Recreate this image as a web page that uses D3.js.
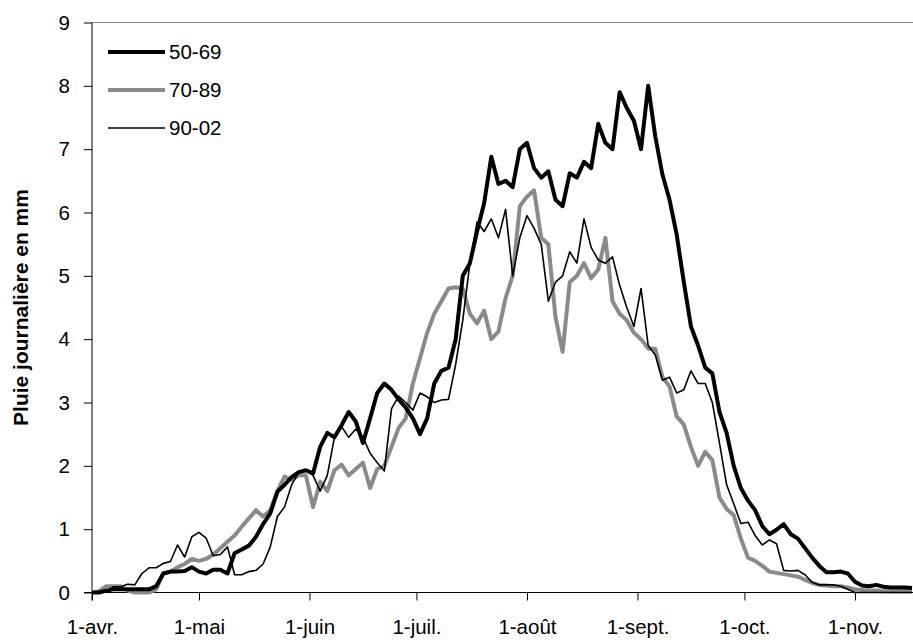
<!DOCTYPE html>
<html>
<head>
<meta charset="utf-8">
<script src="https://cdn.jsdelivr.net/npm/d3@7"></script>
<style>
  html, body { margin: 0; padding: 0; background: #ffffff; }
  svg { display: block; }
  text { font-family: "Liberation Sans", Arial, sans-serif; fill: #000; }
</style>
</head>
<body>
<svg id="chart" width="913" height="642"></svg>
<script>
// ---- data (values every 2 days from 1 April) ----
const startDate = new Date(2000, 3, 1);
const endDate = new Date(2000, 10, 17);
const stepDays = 2;
const seriesNames = ["50-69", "70-89", "90-02"];
const monthLabels = ["1-avr.", "1-mai", "1-juin", "1-juil.", "1-août", "1-sept.", "1-oct.", "1-nov."];
const yTickValues = [0, 1, 2, 3, 4, 5, 6, 7, 8, 9];
const yTitle = "Pluie journalière en mm";

const s5069 = [
  0, 0, 0.03, 0.05, 0.05, 0.05, 0.05, 0.05, 0.05, 0.1,
  0.3, 0.33, 0.33, 0.34, 0.4, 0.33, 0.3, 0.36, 0.36, 0.3,
  0.62, 0.68, 0.74, 0.88, 1.08, 1.25, 1.59, 1.7, 1.82, 1.9,
  1.93, 1.88, 2.3, 2.52, 2.45, 2.64, 2.85, 2.7, 2.36, 2.75,
  3.15, 3.3, 3.2, 3.05, 2.92, 2.75, 2.5, 2.75, 3.3, 3.5,
  3.55, 4.0, 5.0, 5.2, 5.7, 6.15, 6.88, 6.45, 6.5, 6.4,
  7.0, 7.1, 6.7, 6.55, 6.65, 6.2, 6.1, 6.62, 6.55, 6.8,
  6.7, 7.4, 7.1, 7.0, 7.9, 7.65, 7.45, 7.0, 8.0, 7.2,
  6.6, 6.2, 5.65, 4.9, 4.2, 3.9, 3.55, 3.46, 2.85, 2.52,
  2.0, 1.65, 1.45, 1.3, 1.05, 0.92, 0.99, 1.08, 0.92, 0.85,
  0.7, 0.55, 0.42, 0.32, 0.32, 0.33, 0.3, 0.17, 0.11, 0.1,
  0.12, 0.09, 0.08, 0.08, 0.08, 0.07
];
const s7089 = [
  0, 0.02, 0.1, 0.1, 0.1, 0.03, 0, 0, 0, 0.05,
  0.3, 0.33, 0.4, 0.45, 0.53, 0.5, 0.53, 0.6, 0.7, 0.8,
  0.9, 1.04, 1.17, 1.3, 1.2, 1.3, 1.6, 1.83, 1.78, 1.85,
  1.85, 1.35, 1.75, 1.6, 1.93, 2.02, 1.85, 1.95, 2.05, 1.65,
  1.95, 2.0, 2.3, 2.6, 2.75, 3.3, 3.7, 4.1, 4.4, 4.6,
  4.8, 4.82, 4.8, 4.4, 4.25, 4.45, 4.0, 4.12, 4.65, 5.0,
  6.1, 6.25, 6.35, 5.6, 5.5, 4.35, 3.8, 4.9, 5.0, 5.2,
  4.96, 5.1, 5.6, 4.6, 4.4, 4.3, 4.1, 4.0, 3.85, 3.85,
  3.4, 3.25, 2.78, 2.65, 2.3, 2.0, 2.22, 2.09, 1.5, 1.32,
  1.22, 0.85, 0.55, 0.5, 0.42, 0.33, 0.31, 0.29, 0.27, 0.25,
  0.2, 0.15, 0.12, 0.11, 0.1, 0.1, 0.08, 0.05, 0.04, 0.03,
  0.03, 0.02, 0.02, 0.02, 0.02, 0.02
];
const s9002 = [
  0, 0, 0.02, 0.09, 0.09, 0.13, 0.12, 0.3, 0.39, 0.39,
  0.46, 0.49, 0.75, 0.56, 0.88, 0.95, 0.86, 0.58, 0.6, 0.72,
  0.28, 0.28, 0.33, 0.35, 0.45, 0.72, 1.2, 1.35, 1.7, 1.9,
  1.93, 1.85, 1.6, 1.85, 2.45, 2.62, 2.45, 2.58, 2.45, 2.2,
  2.05, 1.92, 2.9, 3.1, 3.0, 2.88, 3.15, 3.09, 3.0, 3.04,
  3.05, 3.6, 4.3, 5.2, 5.85, 5.7, 5.9, 5.6, 6.05, 5.0,
  5.6, 5.95, 5.75, 5.5, 4.6, 4.9, 5.0, 5.38, 5.2, 5.9,
  5.45, 5.25, 5.2, 5.3, 4.85, 4.5, 4.2, 4.8, 3.9, 3.75,
  3.35, 3.4, 3.15, 3.2, 3.5, 3.3, 3.3, 3.0, 2.36, 1.7,
  1.4, 1.09, 1.11, 0.9, 0.75, 0.83, 0.77, 0.35, 0.34, 0.35,
  0.28, 0.16, 0.12, 0.12, 0.12, 0.1, 0.05, 0, 0, 0,
  0, 0, 0, 0, 0, 0
];

// ---- layout ----
const margin = { left: 92, right: 1, top: 22.5, bottom: 49.5 };
const W = 913, H = 642;
const FONT = 20.5;
const svg = d3.select("#chart");

const x = d3.scaleTime()
  .domain([startDate, endDate])
  .range([margin.left, W - margin.right]);
const y = d3.scaleLinear()
  .domain([0, 9])
  .range([H - margin.bottom, margin.top]);

const dayOf = i => d3.timeDay.offset(startDate, i * stepDays);

// top frame line (grey)
svg.append("line")
  .attr("x1", margin.left).attr("x2", W)
  .attr("y1", y(9)).attr("y2", y(9))
  .attr("stroke", "#8c8c8c").attr("stroke-width", 1.2);

// axes
const monthTicks = d3.timeMonth.range(startDate, endDate);
const xAxis = d3.axisBottom(x)
  .tickValues(monthTicks)
  .tickSize(8)
  .tickPadding(19)
  .tickFormat((d, i) => monthLabels[i]);
const gx = svg.append("g")
  .attr("transform", `translate(0,${y(0)})`)
  .call(xAxis);
gx.select(".domain").attr("stroke", "#000").attr("d", `M${margin.left - 8},0H${W}`);
gx.selectAll(".tick line").attr("stroke", "#000");
gx.selectAll(".tick text").attr("font-size", FONT).attr("fill", "#000")
  .attr("font-family", "'Liberation Sans', Arial, sans-serif");

const yAxis = d3.axisLeft(y)
  .tickValues(yTickValues)
  .tickSize(8)
  .tickPadding(14)
  .tickFormat(d3.format("d"));
const gy = svg.append("g")
  .attr("transform", `translate(${margin.left},0)`)
  .call(yAxis);
gy.select(".domain").attr("stroke", "#000").attr("d", `M0,${y(9)}V${y(0) + 8}`);
gy.selectAll(".tick line").attr("stroke", "#000");
gy.selectAll(".tick text").attr("font-size", FONT).attr("fill", "#000")
  .attr("font-family", "'Liberation Sans', Arial, sans-serif");

// y title
svg.append("text")
  .attr("transform", `translate(28,${(y(0) + y(9)) / 2}) rotate(-90)`)
  .attr("text-anchor", "middle")
  .attr("font-size", 21)
  .attr("font-weight", "bold")
  .text(yTitle);

// lines
const styles = {
  "50-69": { color: "#000000", width: 4 },
  "70-89": { color: "#8a8a8a", width: 4 },
  "90-02": { color: "#000000", width: 1.6 }
};
const seriesData = { "50-69": s5069, "70-89": s7089, "90-02": s9002 };
const line = d3.line()
  .x((d, i) => x(dayOf(i)))
  .y(d => y(d));

const plot = svg.append("g");
["70-89", "50-69", "90-02"].forEach(name => {
  plot.append("path")
    .datum(seriesData[name])
    .attr("fill", "none")
    .attr("stroke", styles[name].color)
    .attr("stroke-width", styles[name].width)
    .attr("stroke-linejoin", "round")
    .attr("d", line);
});

// legend
const legend = svg.append("g");
seriesNames.forEach((name, i) => {
  const ly = 52 + i * 38;
  legend.append("line")
    .attr("x1", 108).attr("x2", 165)
    .attr("y1", ly).attr("y2", ly)
    .attr("stroke", styles[name].color)
    .attr("stroke-width", styles[name].width);
  legend.append("text")
    .attr("x", 169).attr("y", ly)
    .attr("dy", "0.35em")
    .attr("font-size", FONT)
    .text(name);
});
</script>
</body>
</html>
